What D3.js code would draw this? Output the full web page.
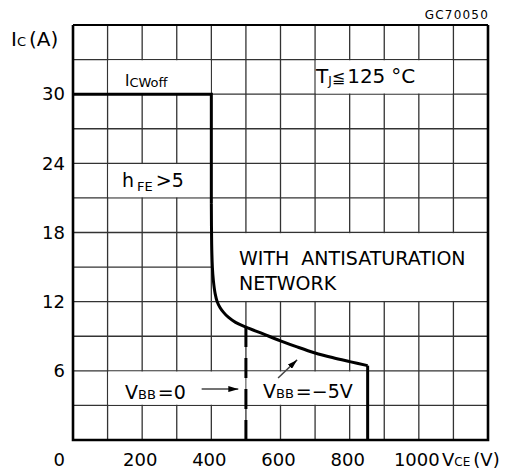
<!DOCTYPE html>
<html>
<head>
<meta charset="utf-8">
<script src="https://cdn.jsdelivr.net/npm/d3@7"></script>
<style>
  html, body { margin: 0; padding: 0; background: #fff; }
  svg { display: block; font-family: "DejaVu Sans", sans-serif; }
</style>
</head>
<body>
<main></main>
<script>
// ticks / grid
const vceGrid = [100, 200, 300, 400, 500, 600, 700, 800, 900, 1000, 1100];
const icGrid = [3, 6, 9, 12, 15, 18, 21, 24, 27, 30, 33];
const vceLabels = [200, 400, 600, 800, 1000];
const icLabels = [6, 12, 18, 24, 30];

// RBSOA boundary (V_BB = -5V, with antisaturation network)
const boundVce = [0, 400, 400, 401, 403, 406, 411, 417, 425, 436, 449, 470, 500, 550, 600, 650, 700, 750, 800, 852, 852];
const boundIc  = [30, 30, 20.5, 17, 15, 13.8, 12.7, 12.0, 11.5, 11.05, 10.65, 10.2, 9.8, 9.2, 8.6, 8.05, 7.55, 7.15, 6.8, 6.45, 0];

// V_BB = 0 limit (dashed)
const zeroVce = [500, 500];
const zeroIc  = [0, 9.8];

window.addEventListener("DOMContentLoaded", () => {
    const W = 520, H = 475;
    const svg = d3.select("main").append("svg").attr("width", W).attr("height", H);

    const x = d3.scaleLinear().domain([0, 1200]).range([73, 488]);
    const y = d3.scaleLinear().domain([0, 36]).range([440, 25]);

    // grid
    svg.append("g").selectAll("line").data(vceGrid).enter().append("line")
       .attr("x1", d => x(d)).attr("x2", d => x(d))
       .attr("y1", y(0)).attr("y2", y(36))
       .attr("stroke", "#333").attr("stroke-width", 1.3);
    svg.append("g").selectAll("line").data(icGrid).enter().append("line")
       .attr("y1", d => y(d)).attr("y2", d => y(d))
       .attr("x1", x(0)).attr("x2", x(1200))
       .attr("stroke", "#333").attr("stroke-width", 1.3);

    // white boxes behind the annotations [v0, v1, i0, i1]
    const boxes = [
        [100, 400, 30, 33],
        [700, 1100, 30, 33],
        [100, 400, 21, 24],
        [400, 1200, 12, 18],
        [100, 500, 3, 6],
        [500, 852, 3, 6]
    ];
    svg.append("g").selectAll("rect").data(boxes).enter().append("rect")
       .attr("x", d => x(d[0]) + 0.7)
       .attr("y", d => y(d[3]) + 0.7)
       .attr("width", d => x(d[1]) - x(d[0]) - 1.4)
       .attr("height", d => y(d[2]) - y(d[3]) - 1.4)
       .attr("fill", "#fff");

    const pts = boundVce.map((v, i) => [v, boundIc[i]]);
    const lin = d3.line().x(d => x(d[0])).y(d => y(d[1]));
    const smooth = d3.line().x(d => x(d[0])).y(d => y(d[1])).curve(d3.curveCatmullRom.alpha(0.5));

    const n = pts.length;
    svg.append("path").attr("d", lin(pts.slice(0, 3)))
       .attr("fill", "none").attr("stroke", "#000").attr("stroke-width", 3);
    svg.append("path").attr("d", smooth(pts.slice(2, n - 1)))
       .attr("fill", "none").attr("stroke", "#000").attr("stroke-width", 3);
    svg.append("path").attr("d", lin(pts.slice(n - 2)))
       .attr("fill", "none").attr("stroke", "#000").attr("stroke-width", 3);

    svg.append("path").attr("d", lin(zeroVce.map((v, i) => [v, zeroIc[i]])))
       .attr("fill", "none").attr("stroke", "#000").attr("stroke-width", 3)
       .attr("stroke-dasharray", "20,11");

    // frame
    svg.append("line").attr("x1", x(0)).attr("x2", x(1200)).attr("y1", y(36)).attr("y2", y(36))
       .attr("stroke", "#000").attr("stroke-width", 2);
    svg.append("path")
       .attr("d", `M${x(0)},${y(36)}V${y(0)}H${x(1200)}V${y(36)}`)
       .attr("fill", "none").attr("stroke", "#000").attr("stroke-width", 2.6);

    // arrows
    const defs = svg.append("defs");
    defs.append("marker").attr("id", "head").attr("viewBox", "0 0 10 6")
        .attr("refX", 10).attr("refY", 3).attr("markerWidth", 10).attr("markerHeight", 6)
        .attr("markerUnits", "userSpaceOnUse").attr("orient", "auto")
        .append("path").attr("d", "M0,0L10,3L0,6Z").attr("fill", "#000");
    const arrows = [
        [372, 4.42, 478, 4.42],
        [593, 5.38, 648, 6.95]
    ];
    svg.append("g").selectAll("line").data(arrows).enter().append("line")
       .attr("x1", d => x(d[0])).attr("y1", d => y(d[1]))
       .attr("x2", d => x(d[2])).attr("y2", d => y(d[3]))
       .attr("stroke", "#444").attr("stroke-width", 1.5)
       .attr("marker-end", "url(#head)");

    // tick labels
    svg.append("g").selectAll("text").data(icLabels).enter().append("text")
       .attr("x", 65).attr("y", d => y(d) + 6.3)
       .attr("text-anchor", "end").attr("font-size", 18).text(d => d);
    svg.append("g").selectAll("text").data(vceLabels).enter().append("text")
       .attr("x", d => x(d) - 2).attr("y", 466)
       .attr("text-anchor", "middle").attr("font-size", 18).text(d => d);
    svg.append("text").attr("x", 65).attr("y", 466).attr("text-anchor", "end")
       .attr("font-size", 18).text("0");

    // axis titles
    const ic = svg.append("text").attr("x", 11).attr("y", 46).attr("font-size", 20);
    ic.append("tspan").text("I");
    ic.append("tspan").attr("font-size", 13).text("C");
    ic.append("tspan").attr("dx", 3).text("(A)");

    const vce = svg.append("text").attr("x", 442).attr("y", 466).attr("font-size", 18);
    vce.append("tspan").text("V");
    vce.append("tspan").attr("font-size", 12).text("CE");
    vce.append("tspan").attr("dx", 3).text("(V)");

    svg.append("text").attr("x", 489).attr("y", 19).attr("text-anchor", "end")
       .attr("font-size", 12).attr("letter-spacing", 1.2).text("GC70050");

    // annotations
    const icw = svg.append("text").attr("x", 125).attr("y", 86).attr("font-size", 15);
    icw.append("tspan").text("I");
    icw.append("tspan").attr("font-size", 13).attr("dy", 1).text("CWoff");

    const tj = svg.append("text").attr("x", 316).attr("y", 83).attr("font-size", 20);
    tj.append("tspan").text("T");
    tj.append("tspan").attr("font-size", 12).attr("dy", 2).text("J");
    tj.append("tspan").attr("dy", -2).attr("font-size", 16).text("\u2266");
    tj.append("tspan").attr("dx", 2).text("125");
    tj.append("tspan").attr("dx", 6).text("\u00b0C");

    const hfe = svg.append("text").attr("x", 122).attr("y", 187).attr("font-size", 19);
    hfe.append("tspan").text("h");
    hfe.append("tspan").attr("font-size", 13).attr("dx", 3).attr("dy", 4).text("FE");
    hfe.append("tspan").attr("dx", 3).attr("dy", -4).text(">5");

    svg.append("text").attr("x", 239).attr("y", 265).attr("font-size", 19)
       .attr("xml:space", "preserve").text("WITH  ANTISATURATION");
    svg.append("text").attr("x", 239).attr("y", 290).attr("font-size", 19).text("NETWORK");

    const v0 = svg.append("text").attr("x", 125).attr("y", 399).attr("font-size", 19);
    v0.append("tspan").text("V");
    v0.append("tspan").attr("font-size", 13).text("BB");
    v0.append("tspan").attr("dx", 2).text("=0");

    const v5 = svg.append("text").attr("x", 263).attr("y", 398).attr("font-size", 19);
    v5.append("tspan").text("V");
    v5.append("tspan").attr("font-size", 13).text("BB");
    v5.append("tspan").attr("dx", 2).text("=\u22125V");
});
</script>
</body>
</html>
